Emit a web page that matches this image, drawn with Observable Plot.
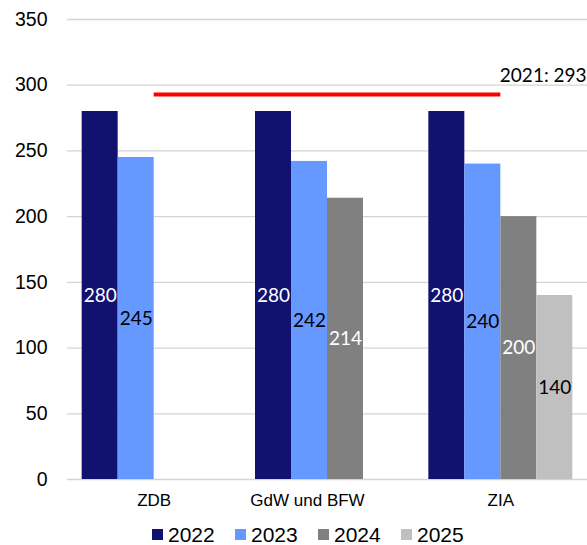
<!DOCTYPE html>
<html>
<head>
<meta charset="utf-8">
<script src="https://cdn.jsdelivr.net/npm/d3@7"></script>
<script src="https://cdn.jsdelivr.net/npm/@observablehq/plot@0.6"></script>
<style>
  html, body { margin: 0; padding: 0; background: #fff; }
  #chart svg { display: block; overflow: hidden; }
  .legend { display: flex; margin-left: 152px; height: 27px; padding-top: 3px; align-items: center;
    font-family: "Liberation Sans", Arial, sans-serif; font-size: 21px; color: #000; }
  .legend .item { display: flex; align-items: center; width: 83px; }
  .legend .sw { width: 11px; height: 11px; margin-right: 5px; }
</style>
</head>
<body>
<div id="chart"></div>
<script>
const groups = ["ZDB", "GdW und BFW", "ZIA"];
const years = ["2022", "2023", "2024", "2025"];
const values2022 = [280, 280, 280];
const values2023 = [245, 242, 240];
const values2024 = [null, 214, 200];
const values2025 = [null, null, 140];
const ref2021 = 293;
const refLabel = "2021: 293";
const yTicks = [0, 50, 100, 150, 200, 250, 300, 350];

const colors = ["#11116f", "#6699ff", "#808080", "#c0c0c0"];
const labelColors = ["#ffffff", "#000000", "#ffffff", "#000000"];
const series = [values2022, values2023, values2024, values2025];

const data = [];
groups.forEach((g, gi) => {
  series.forEach((vals, si) => {
    const v = vals[gi];
    if (v != null) data.push({group: g, year: years[si], gi, si, value: v});
  });
});

const w = 0.2077; // bar width in group units
const bx1 = d => d.gi + (d.si - 2) * w;
const bx2 = d => d.gi + (d.si - 1) * w;
const bxc = d => d.gi + (d.si - 1.5) * w;

const groupRows = groups.map((g, i) => ({g, i}));
const GDW = "GdW und BFW";

const labelFont = "Lato, 'Open Sans', sans-serif";

const plot = Plot.plot({
  width: 587,
  height: 518,
  marginLeft: 67,
  marginRight: 0,
  marginTop: 19,
  marginBottom: 39,
  style: {fontFamily: "'Liberation Sans', Arial, sans-serif", background: "#fff"},
  x: {type: "linear", domain: [-0.5, groups.length - 0.5], axis: null},
  y: {domain: [0, 350], axis: null},
  color: {domain: years, range: colors},
  marks: [
    Plot.gridY(yTicks, {stroke: "#d4d4d4", strokeOpacity: 1, strokeWidth: 1.3}),
    Plot.axisY(yTicks, {tickSize: 0, tickPadding: 20, fontSize: 19.5, label: null, fill: "#000"}),
    Plot.rect(data, {x1: bx1, x2: bx2, y1: 0, y2: "value", fill: "year"}),
    Plot.text(data.filter(d => labelColors[d.si] === "#ffffff"), {
      x: bxc, y: d => d.value / 2, text: d => String(d.value),
      fill: "#fff", fontSize: 19, fontFamily: labelFont
    }),
    Plot.text(data.filter(d => labelColors[d.si] === "#000000"), {
      x: bxc, y: d => d.value / 2, text: d => String(d.value),
      fill: "#000", fontSize: 19, fontFamily: labelFont
    }),
    Plot.ruleY([ref2021], {x1: 0, x2: groups.length - 1, stroke: "#ff0000", strokeWidth: 4}),
    Plot.text([refLabel], {
      x: groups.length - 1, y: ref2021, text: d => d, textAnchor: "start",
      dx: -1, dy: -19, fontSize: 19, fontFamily: labelFont, fill: "#000"
    }),
    Plot.text(groupRows.filter(d => d.g !== GDW), {
      x: "i", y: 0, text: "g", lineAnchor: "top", dy: 14, fontSize: 17, fill: "#000"
    }),
    Plot.text(groupRows.filter(d => d.g === GDW), {
      x: "i", y: 0, text: "g", lineAnchor: "top", dy: 14, dx: -20, fontSize: 17, fill: "#000"
    })
  ]
});
document.getElementById("chart").appendChild(plot);

const legend = document.createElement("div");
legend.className = "legend";
years.forEach((y, i) => {
  const item = document.createElement("div");
  item.className = "item";
  const sw = document.createElement("span");
  sw.className = "sw";
  sw.style.background = colors[i];
  const t = document.createElement("span");
  t.textContent = y;
  item.appendChild(sw);
  item.appendChild(t);
  legend.appendChild(item);
});
document.getElementById("chart").appendChild(legend);
</script>
</body>
</html>
